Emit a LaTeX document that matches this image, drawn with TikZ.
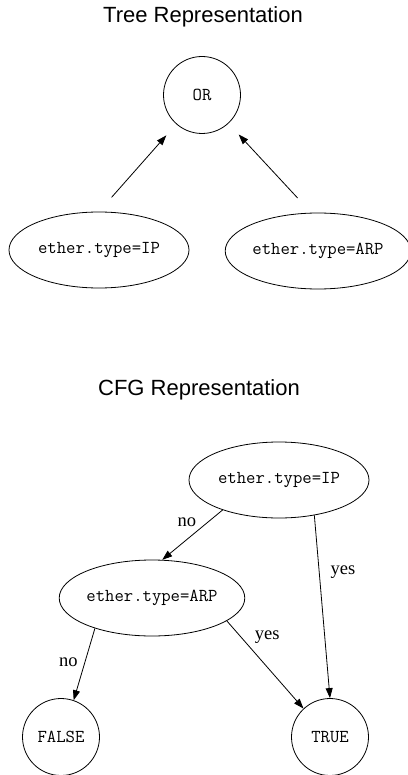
\documentclass[tikz,border=0pt]{standalone}
\usepackage{fontspec}
\setmainfont{Liberation Serif}
\setsansfont{Liberation Sans}
\usetikzlibrary{shapes.geometric}
\usetikzlibrary{arrows.meta}
\begin{document}
\begin{tikzpicture}[x=1pt,y=-1pt,
    ell/.style={draw,ellipse,line width=.8pt,inner sep=0,minimum width=180pt,minimum height=76pt,font=\ttfamily\fontsize{18.2}{21}\selectfont},
    circ/.style={draw,circle,line width=.8pt,inner sep=0,minimum size=77pt,font=\ttfamily\fontsize{18.2}{21}\selectfont},
    arr/.style={line width=.8pt,-{Triangle[length=10pt,width=7pt]}},
    lab/.style={inner sep=1pt,font=\fontsize{18.5}{22}\selectfont},
    ttl/.style={font=\sffamily\fontsize{22}{26}\selectfont}]
    \useasboundingbox (0,0) rectangle (407,775);
    % tree
    \node[ttl] (treettl) at (203,17) {Tree Representation};
    \node[circ] (or) at (202,95) {OR};
    \node[ell] (ipT) at (99,250) {ether.type=IP};
    \node[ell] (arpT) at (318,251) {ether.type=ARP};
    \draw[arr,shorten <=19pt,shorten >=15pt] (ipT.north) -- (or);
    \draw[arr,shorten <=20pt,shorten >=15pt] (arpT.100) -- (or);
    % cfg
    \node[ttl] (cfgttl) at (199,390) {CFG Representation};
    \node[ell] (ipC) at (279,480) {ether.type=IP};
    \node[ell] (arpC) at (152,598) {ether.type=ARP};
    \node[circ] (falseC) at (61,737) {FALSE};
    \node[circ] (trueC) at (330,737) {TRUE};
    \draw[arr] (ipC.208) -- node[lab,pos=0.25,left=10pt] {no} (arpC.75);
    \draw[arr] (ipC.-45) -- node[lab,pos=0.31,right=10pt] {yes} (trueC.north);
    \draw[arr] (arpC.208) -- node[lab,pos=0.47,left=6pt] {no} (falseC.71);
    \draw[arr] (arpC.-17) -- node[lab,pos=0.19,right=12pt] {yes} (trueC.133);
\end{tikzpicture}
\end{document}
